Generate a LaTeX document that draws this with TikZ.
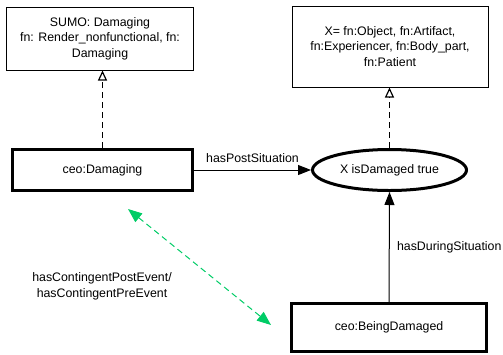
\documentclass[tikz,border=0pt]{standalone}
\usepackage{fontspec}
\setmainfont{Liberation Sans}
\usetikzlibrary{arrows.meta,shapes.geometric}
\definecolor{cgreen}{HTML}{00CC66}
\begin{document}
\begin{tikzpicture}[x=1bp,y=-1bp,
  every node/.style={font=\fontsize{12.4}{15.5}\selectfont, text=black},
  thinbox/.style={draw, line width=1bp, align=center, inner sep=0pt},
  thickbox/.style={draw, line width=3bp, align=center, inner sep=0pt},
  thickell/.style={draw, ellipse, line width=3bp, inner sep=0pt},
  dashline/.style={line width=1bp, dash pattern=on 6bp off 4bp},
  opentip/.style={-{Triangle[open, length=10bp, width=9bp, line width=1.2bp]}},
  solidtip/.style={-{Triangle[length=13bp, width=10bp]}},
  greenline/.style={draw=cgreen, line width=1bp, dash pattern=on 6bp off 4bp,
    {Triangle[length=14bp, width=11bp]}-{Triangle[length=14bp, width=11bp]}}
]
\useasboundingbox (0,0) rectangle (503,354);

\node[thinbox, minimum width=186bp, minimum height=63bp] (sumo) at (100,38.5)
  {SUMO: Damaging\\fn: Render\_nonfunctional, fn:\\Damaging};
\node[thinbox, minimum width=196bp, minimum height=81bp] (xbox) at (390,46.5)
  {X= fn:Object, fn:Artifact,\\fn:Experiencer, fn:Body\_part,\\fn:Patient};
\node[thickbox, minimum width=180bp, minimum height=41bp] (cd) at (102.5,170) {ceo:Damaging};
\node[thickell, minimum width=154bp, minimum height=41bp] (ell) at (389.5,170) {X isDamaged true};
\node[thickbox, minimum width=195bp, minimum height=48bp] (bd) at (389,327.5) {ceo:BeingDamaged};

\draw[dashline, opentip] (cd.north) -- (cd.north |- sumo.south);
\draw[dashline, opentip] (ell.north) -- (ell.north |- xbox.south);

\draw[line width=1bp, solidtip] (cd.east) -- node[above=4bp] (lpost) {hasPostSituation} (ell.west);
\draw[line width=1bp, solidtip] (bd.north) -- node[right=4bp] (ldur) {hasDuringSituation} (ell.south);

\coordinate (g1) at (128,209);
\coordinate (g2) at (271,325);
\draw[greenline] (g1) -- (g2);

\node[align=center] (lcont) at (102,286.5) {hasContingentPostEvent/\\hasContingentPreEvent};
\end{tikzpicture}
\end{document}
